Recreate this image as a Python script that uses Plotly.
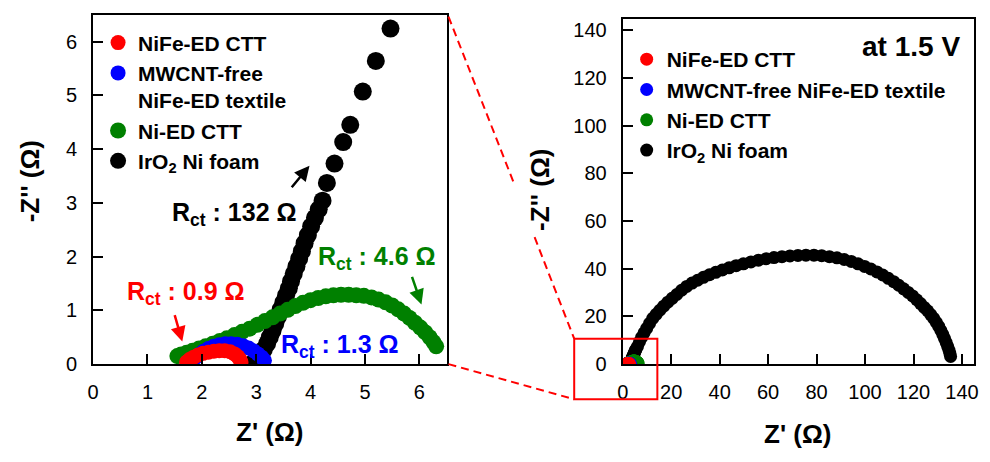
import plotly.graph_objects as go

# ---- Nyquist data (Z' and -Z'' in ohm) ----
nife_ctt_re = [1.72, 1.78, 1.85, 1.93, 2.02, 2.12, 2.22, 2.32, 2.42, 2.52, 2.60, 2.66, 2.70, 2.72]
nife_ctt_im = [0.04, 0.09, 0.13, 0.17, 0.20, 0.22, 0.24, 0.25, 0.25, 0.23, 0.19, 0.14, 0.09, 0.04]

mwcnt_free_re = [1.82, 1.88, 1.95, 2.03, 2.12, 2.22, 2.32, 2.43, 2.54, 2.65, 2.76, 2.86, 2.95, 3.03, 3.10, 3.15]
mwcnt_free_im = [0.06, 0.12, 0.18, 0.24, 0.29, 0.33, 0.36, 0.38, 0.38, 0.37, 0.34, 0.30, 0.25, 0.19, 0.13, 0.07]

ni_ed_re = [1.55, 1.62, 1.72, 1.83, 1.95, 2.07, 2.20, 2.33, 2.46, 2.60,
            2.74, 2.88, 3.02, 3.16, 3.30, 3.44, 3.58, 3.72, 3.86, 4.00,
            4.14, 4.28, 4.42, 4.56, 4.70, 4.84, 4.98, 5.12, 5.25, 5.38,
            5.50, 5.61, 5.72, 5.82, 5.92, 6.02, 6.11, 6.19, 6.26, 6.31]
ni_ed_im = [0.15, 0.18, 0.21, 0.25, 0.29, 0.33, 0.38, 0.43, 0.48, 0.54,
            0.60, 0.66, 0.73, 0.80, 0.87, 0.94, 1.01, 1.08, 1.14, 1.19,
            1.23, 1.26, 1.28, 1.29, 1.29, 1.28, 1.27, 1.24, 1.20, 1.15,
            1.09, 1.02, 0.94, 0.86, 0.77, 0.68, 0.59, 0.50, 0.41, 0.33]

iro2_re = [2.95, 3.02, 3.08, 3.14, 3.20, 3.25, 3.30, 3.35, 3.40, 3.45,
           3.50, 3.55, 3.60, 3.64, 3.69, 3.74, 3.79, 3.84, 3.89, 3.95,
           4.01, 4.08, 4.15, 4.22, 4.30, 4.44, 4.60, 4.73, 4.96, 5.20,
           5.47, 6.1, 6.9, 7.8, 8.8, 9.9, 11.1, 12.4, 13.8, 15.3,
           16.9, 18.6, 20.4, 22.3, 24.3, 26.4, 28.6, 30.9, 33.3, 35.8,
           38.4, 41.1, 43.9, 46.8, 49.8, 52.9, 56.0, 59.2, 62.4, 65.7,
           69.0, 72.3, 75.6, 78.9, 82.1, 85.3, 88.4, 91.4, 94.3, 97.1,
           99.8, 102.4, 104.9, 107.3, 109.6, 111.8, 113.9, 115.9, 117.8, 119.6,
           121.3, 122.9, 124.4, 125.8, 127.1, 128.3, 129.4, 130.4, 131.3, 132.1,
           132.8, 133.5, 134.1, 134.6, 135.0, 135.3]
iro2_im = [0.03, 0.10, 0.18, 0.27, 0.38, 0.50, 0.62, 0.75, 0.88, 1.02,
           1.15, 1.28, 1.41, 1.54, 1.68, 1.82, 1.96, 2.10, 2.25, 2.40,
           2.56, 2.72, 2.88, 3.04, 3.37, 3.73, 4.13, 4.45, 5.07, 5.64,
           6.24, 7.4, 9.3, 11.2, 13.1, 15.0, 17.1, 19.2, 20.9, 22.6,
           24.3, 26.0, 27.6, 29.2, 31.0, 32.6, 34.0, 35.2, 36.4, 37.5,
           38.5, 39.5, 40.4, 41.3, 42.1, 42.9, 43.6, 44.2, 44.7, 45.1,
           45.4, 45.6, 45.7, 45.7, 45.5, 45.1, 44.6, 43.9, 43.1, 42.1,
           41.0, 39.9, 38.7, 37.4, 36.0, 34.6, 33.1, 31.6, 30.1, 28.6,
           27.0, 25.4, 23.8, 22.4, 20.8, 19.2, 17.5, 15.8, 14.1, 12.4,
           10.7, 9.0, 7.4, 5.9, 4.5, 3.2]

# charge-transfer resistances (ohm)
rct_nife_ctt = 0.9
rct_mwcnt_free = 1.3
rct_ni_ed = 4.6
rct_iro2 = 132

# tick values
zoom_ticks = [0, 1, 2, 3, 4, 5, 6]
full_ticks = [0, 20, 40, 60, 80, 100, 120, 140]

FONT = "Liberation Sans, Arial, sans-serif"
W, H = 990, 462
RED, BLUE, GREEN, BLACK = "#ff0000", "#0000ff", "#008000", "#000000"


def fx(p):
    return p / W


def fy(p):
    return 1 - p / H


# (name in zoom legend, name in full legend, x, y, colour, size zoom, size full)
series = [
    ("IrO<sub>2</sub> Ni foam", "IrO<sub>2</sub> Ni foam", iro2_re, iro2_im, BLACK, 18, 13),
    ("Ni-ED CTT", "Ni-ED CTT", ni_ed_re, ni_ed_im, GREEN, 16, 13),
    ("MWCNT-free<br>NiFe-ED textile", "MWCNT-free NiFe-ED textile",
     mwcnt_free_re, mwcnt_free_im, BLUE, 15, 13),
    ("NiFe-ED CTT", "NiFe-ED CTT", nife_ctt_re, nife_ctt_im, RED, 15, 13),
]

fig = go.Figure()
for name_zoom, name_full, xs, ys, col, s_zoom, s_full in series:
    fig.add_trace(go.Scatter(
        x=xs, y=ys, mode="markers", name=name_zoom,
        marker=dict(color=col, size=s_zoom, line=dict(width=0)),
        xaxis="x", yaxis="y", legend="legend"))
for name_zoom, name_full, xs, ys, col, s_zoom, s_full in series:
    fig.add_trace(go.Scatter(
        x=xs, y=ys, mode="markers", name=name_full,
        marker=dict(color=col, size=s_full, line=dict(width=0)),
        xaxis="x2", yaxis="y2", legend="legend2"))

axis_style = dict(
    showline=True, linecolor="black", linewidth=2, mirror=True,
    ticks="inside", ticklen=10, tickwidth=2, tickcolor="black",
    showgrid=False, zeroline=False, fixedrange=True,
    tickfont=dict(family=FONT, size=20, color="black"),
)

legend_style = dict(
    bgcolor="rgba(0,0,0,0)", borderwidth=0, traceorder="reversed",
    valign="top", xanchor="left", yanchor="top",
    font=dict(family=FONT, size=21, color="black", weight="bold"),
)

fig.update_layout(
    width=W, height=H,
    margin=dict(l=0, r=0, t=0, b=0),
    paper_bgcolor="white", plot_bgcolor="white",
    font=dict(family=FONT, color="black"),
    xaxis=dict(domain=[fx(88), fx(445)], range=[0, 6.5], tickvals=zoom_ticks,
               anchor="y", ticklabelstandoff=9, **axis_style),
    yaxis=dict(domain=[fy(373), fy(15)], range=[0, 6.5], tickvals=zoom_ticks,
               anchor="x", ticklabelstandoff=10, **axis_style),
    xaxis2=dict(domain=[fx(623), fx(978)], range=[0, 145], tickvals=full_ticks,
                anchor="y2", ticklabelstandoff=9, **axis_style),
    yaxis2=dict(domain=[fy(373), fy(19)], range=[0, 145], tickvals=full_ticks,
                anchor="x2", ticklabelstandoff=10, **axis_style),
    legend=dict(x=fx(93), y=fy(23), **legend_style),
    legend2=dict(x=fx(627), y=fy(40), **legend_style),
    showlegend=True,
)

title_font = dict(family=FONT, size=26, color="black", weight="bold")
rct_font = dict(family=FONT, size=25, weight="bold")
centred = dict(xref="paper", yref="paper", xanchor="center", yanchor="middle", showarrow=False)

annotations = [
    # axis titles
    dict(text="Z' (Ω)", x=fx(266), y=fy(443), font=title_font, **centred),
    dict(text="-Z'' (Ω)", x=fx(24), y=fy(186), textangle=-90, font=title_font, **centred),
    dict(text="Z' (Ω)", x=fx(800), y=fy(445), font=title_font, **centred),
    dict(text="-Z'' (Ω)", x=fx(540), y=fy(195), textangle=-90, font=title_font, **centred),
    # potential label
    dict(text="at 1.5 V", x=fx(966), y=fy(48), xref="paper", yref="paper",
         xanchor="right", yanchor="middle", showarrow=False,
         font=dict(family=FONT, size=28, color="black", weight="bold")),
    # Rct labels
    dict(text=f"R<sub>ct</sub> : {rct_iro2} Ω", x=2.60, y=2.80, xref="x", yref="y",
         showarrow=False, font=dict(color=BLACK, **rct_font)),
    dict(text=f"R<sub>ct</sub> : {rct_ni_ed} Ω", x=5.23, y=1.98, xref="x", yref="y",
         showarrow=False, font=dict(color=GREEN, **rct_font)),
    dict(text=f"R<sub>ct</sub> : {rct_nife_ctt} Ω", x=1.70, y=1.32, xref="x", yref="y",
         showarrow=False, font=dict(color=RED, **rct_font)),
    dict(text=f"R<sub>ct</sub> : {rct_mwcnt_free} Ω", x=4.55, y=0.34, xref="x", yref="y",
         showarrow=False, font=dict(color=BLUE, **rct_font)),
]

# pointer arrows in the zoomed panel
arrow_common = dict(text="", xref="x", yref="y", showarrow=True,
                    arrowhead=2, arrowsize=1.2, arrowwidth=2.5, axref="pixel", ayref="pixel")
annotations += [
    dict(x=3.98, y=3.69, ax=-19, ay=23, arrowcolor=BLACK, **arrow_common),
    dict(x=6.04, y=1.11, ax=-10, ay=-29, arrowcolor=GREEN, **arrow_common),
    dict(x=1.64, y=0.42, ax=-8, ay=-28, arrowcolor=RED, **arrow_common),
]
fig.update_layout(annotations=annotations)

# zoom window on the full panel and the dashed guide lines to the zoomed panel
dash_line = dict(color=RED, width=2, dash="8px,5px")
fig.update_layout(shapes=[
    dict(type="rect", xref="paper", yref="paper",
         x0=fx(574), x1=fx(658), y0=fy(409), y1=fy(347),
         line=dict(color=RED, width=2)),
    dict(type="line", xref="paper", yref="paper",
         x0=fx(447), y0=fy(17), x1=fx(514), y1=fy(190), line=dash_line),
    dict(type="line", xref="paper", yref="paper",
         x0=fx(534), y0=fy(243), x1=fx(574), y1=fy(347), line=dash_line),
    dict(type="line", xref="paper", yref="paper",
         x0=fx(447), y0=fy(373), x1=fx(574), y1=fy(409), line=dash_line),
])

fig.write_html("out.html")
